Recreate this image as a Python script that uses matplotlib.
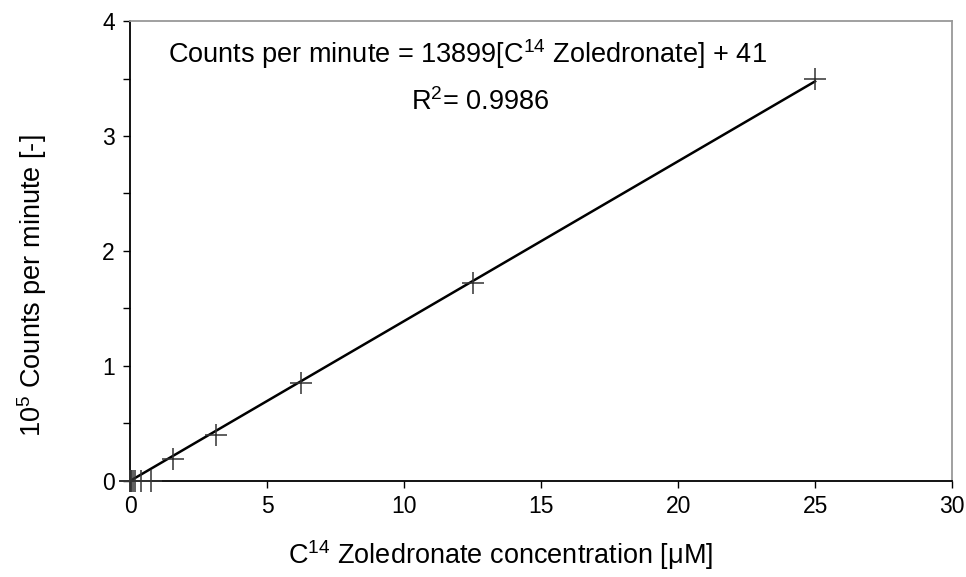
import numpy as np
import matplotlib

matplotlib.use('Agg')

import matplotlib.pyplot as plt
from matplotlib.ticker import MultipleLocator

plt.rcParams['font.family'] = ['Liberation Sans', 'DejaVu Sans']

# measured points: concentration [uM] and counts per minute [1e5]
conc = [0, 0.012, 0.024, 0.049, 0.098, 0.195, 0.39, 0.78, 1.5625, 3.125, 6.25, 12.5, 25]
cpm = [0.0, 0.0, 0.0, 0.0, 0.0, 0.0, 0.0, 0.0, 0.19, 0.40, 0.85, 1.72, 3.50]

# linear fit
slope = 13899
intercept = 41
fit_x = [0, 25]
fit_y = [(slope * v + intercept) / 1e5 for v in fit_x]

fig = plt.figure(figsize=(9.66, 5.77), dpi=100)
ax = fig.add_axes([0.1346, 0.1664, 0.851, 0.7972])

ax.plot(fit_x, fit_y, color='black', lw=1.8, zorder=2)
ax.plot(conc, cpm, ls='none', marker='+', ms=16, mew=1.1, color='#333333',
        clip_on=False, zorder=3)

ax.set_xlim(0, 30)
ax.set_ylim(0, 4)
ax.set_xticks(range(0, 31, 5))
ax.set_yticks(range(0, 5))
ax.yaxis.set_minor_locator(MultipleLocator(0.5))
ax.tick_params(axis='both', which='both', direction='out', labelsize=16.5,
               top=False, right=False)
ax.tick_params(which='major', length=5, width=1)
ax.tick_params(which='minor', length=5, width=1)
ax.tick_params(axis='x', pad=5)
ax.tick_params(axis='y', pad=6)

for s in ['left', 'bottom']:
    ax.spines[s].set_color('black')
    ax.spines[s].set_linewidth(1.3)
for s in ['top', 'right']:
    ax.spines[s].set_color('#999999')
    ax.spines[s].set_linewidth(1.3)

ax.set_xlabel(r'C$^{\mathregular{14}}$ Zoledronate concentration [μM]', fontsize=19.5,
              va='center', ha='center')
ax.xaxis.set_label_coords(0.4513, -0.161)
ax.set_ylabel(r'10$^{\mathregular{5}}$ Counts per minute [-]', fontsize=19.5,
              va='center', ha='center')
ax.yaxis.set_label_coords(-0.119, 0.424)

ax.text(1.37, 3.635, r'Counts per minute = 13899[C$^{\mathregular{14}}$ Zoledronate] + 41',
        fontsize=19.5, ha='left', va='baseline')
ax.text(10.26, 3.226, r'R$^{\mathregular{2}}$= 0.9986', fontsize=19.5, ha='left', va='baseline')

plt.savefig('out.png', dpi=100)
